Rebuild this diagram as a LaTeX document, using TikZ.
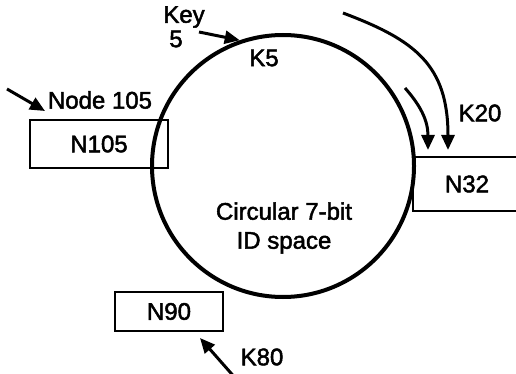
\documentclass[tikz,border=0pt]{standalone}
\usepackage{fontspec}
\setmainfont[FakeBold=2]{Liberation Sans}
\usetikzlibrary{arrows.meta}
\begin{document}
\begin{tikzpicture}[x=1pt,y=-1pt,
  lbl/.style={font=\fontsize{24}{26}\selectfont, inner sep=0pt},
  box/.style={draw, line width=2pt, minimum width=138pt, minimum height=48pt, inner sep=0pt, font=\fontsize{24}{26}\selectfont},
  arr/.style={line width=3pt, -{Triangle[length=15pt,width=13pt]}}]
\useasboundingbox (0,0) rectangle (516,374);
\clip (0,0) rectangle (516,374);
\node[draw, circle, line width=4pt, minimum size=262pt, inner sep=0pt] (ring) at (283,166) {};
\node[box] (n105) at (99,144) {N105};
\node[box, minimum width=108pt, minimum height=54pt] (n32) at (467,184) {N32};
\node[box, minimum width=108pt, minimum height=39pt] (n90) at (169,311.5) {N90};
\node[lbl] (key) at (184,17) {Key};
\node[lbl] (five) at (176,39) {5};
\node[lbl] (k5) at (264,58) {K5};
\node[lbl] (node105) at (100,100) {Node 105};
\node[lbl] (k20) at (480,113) {K20};
\node[lbl] (k80) at (262,357) {K80};
\node[lbl, align=center, font=\fontsize{24}{29}\selectfont] (idspace) at (284,228) {Circular 7-bit\\ID space};
\coordinate (a1) at (199,32);
\coordinate (a2) at (7,89);
\coordinate (a3) at (343,13);
\coordinate (a4) at (405,88);
\coordinate (a5) at (237,380);
\coordinate (t32a) at (448,150);
\coordinate (t32b) at (428,150);
\coordinate (t90) at (200,338);
\coordinate (t105) at (45,111);
\draw[arr] (a1) -- (ring.109);
\draw[arr] (a2) -- (t105);
\draw[arr] (a3) .. controls (415,40) and (448,65) .. (t32a);
\draw[arr] (a4) .. controls (420,105) and (428,120) .. (t32b);
\draw[arr] (a5) -- (t90);
\end{tikzpicture}
\end{document}
